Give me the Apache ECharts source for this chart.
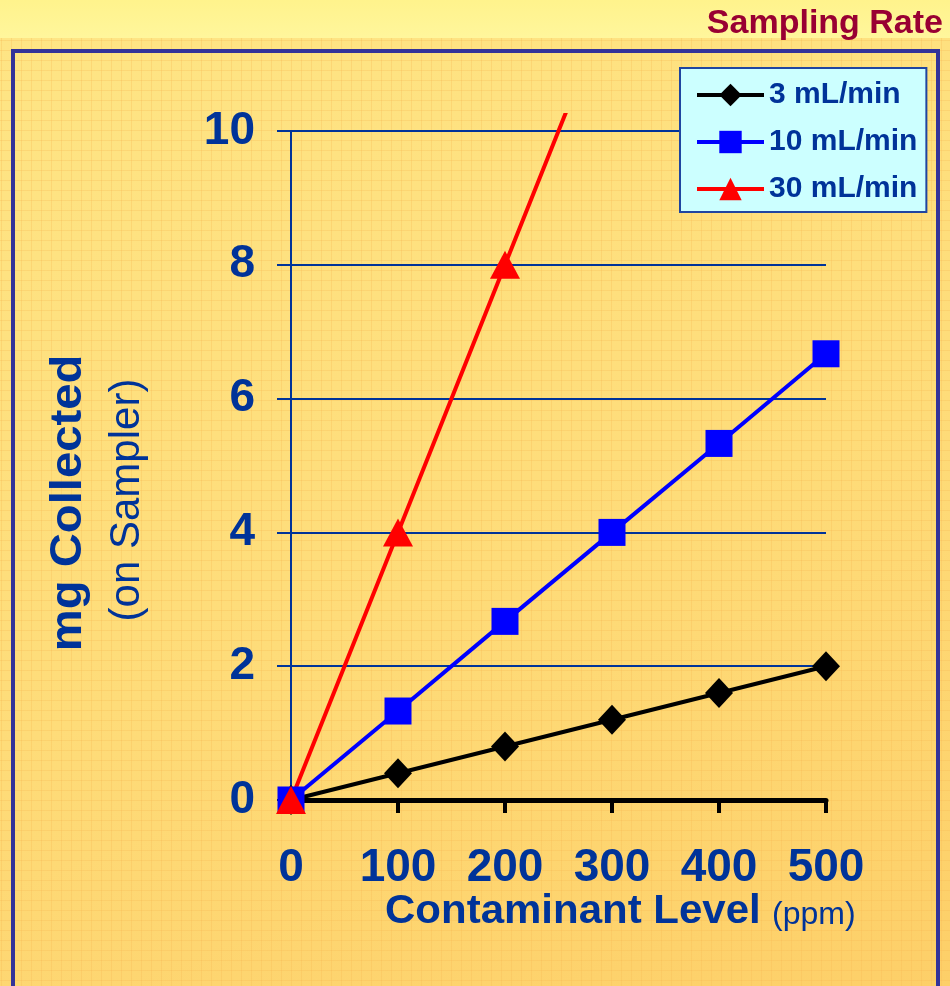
<!DOCTYPE html>
<html>
<head>
<meta charset="utf-8">
<title>Sampling Rate</title>
<script src="https://cdn.jsdelivr.net/npm/echarts@6/dist/echarts.min.js"></script>
<style>
  html, body { margin: 0; padding: 0; }
  #page { position: relative; width: 950px; height: 986px; overflow: hidden; background: #fff38c; }
  #strip { position: absolute; left: 0; top: 0; width: 950px; height: 38px;
           background: linear-gradient(to bottom, #fff38c, #fff69c); }
  #paper { position: absolute; left: 0; top: 38px; width: 950px; height: 948px;
           background:
             repeating-linear-gradient(to right, rgba(248, 185, 85, 0.30) 0 1px, transparent 1px 10px),
             repeating-linear-gradient(to bottom, rgba(248, 185, 85, 0.30) 0 1px, transparent 1px 10px),
             linear-gradient(160deg, #fee585 0%, #fedc79 55%, #fdcf68 100%);
           background-position: 1px 2px, 1px 2px, 0 0; }
  #frame { position: absolute; left: 11px; top: 49px; width: 929px; height: 1000px;
           box-sizing: border-box; border: 4px solid #333399; border-bottom: none; }
  #chart { position: absolute; left: 0; top: 0; width: 950px; height: 986px; }
</style>
</head>
<body>
<div id="page">
  <div id="strip"></div>
  <div id="paper"></div>
  <div id="frame"></div>
  <div id="chart"></div>
</div>
<script>
// Contaminant level on the sampler (ppm) and mass collected (mg) per sampling rate
const ppm = [0, 100, 200, 300, 400, 500];
const rate3 = [0, 0.4, 0.8, 1.2, 1.6, 2.0];
const rate10 = [0, 1.33, 2.67, 4.0, 5.33, 6.67];
const rate30 = [0, 4, 8, 12];
const seriesNames = ['3 mL/min', '10 mL/min', '30 mL/min'];

const titleText = 'Sampling Rate';
const xTitle = 'Contaminant Level';
const xUnit = '(ppm)';
const yTitle = 'mg Collected';
const ySub = '(on Sampler)';

// plot area in pixels
const plotLeft = 291, plotRight = 826, plotTop = 131, plotBottom = 800;
const W = 950, H = 986;
const yMax = 10;
// the steep series may run a little past the top gridline before it is cut off
const overflowTop = 115;
const yMaxOverflow = yMax * (plotBottom - overflowTop) / (plotBottom - plotTop);

const BLUE = '#003399';
const FONT = '"Liberation Sans", Arial, Helvetica, sans-serif';

function pairs(xs, ys) {
  return ys.map((v, i) => [xs[i], v]);
}

const gridBase = { left: plotLeft, right: W - plotRight, bottom: H - plotBottom };

const chart = echarts.init(document.getElementById('chart'), null, { renderer: 'canvas' });

chart.setOption({
  backgroundColor: 'transparent',
  animation: false,
  legend: {
    data: seriesNames,
    orient: 'vertical',
    left: 680,
    top: 68,
    backgroundColor: '#ccffff',
    borderColor: '#1f45a0',
    borderWidth: 2,
    borderRadius: 0,
    padding: [12, 9, 8, 15],
    itemWidth: 67,
    itemHeight: 28,
    itemGap: 17,
    selectedMode: false,
    lineStyle: { width: 4 },
    textStyle: { color: BLUE, fontSize: 30, fontWeight: 'bold', fontFamily: FONT }
  },
  grid: [
    Object.assign({ top: plotTop }, gridBase),
    Object.assign({ top: overflowTop }, gridBase)
  ],
  xAxis: [
    {
      gridIndex: 0, type: 'value', min: 0, max: 500, interval: 100,
      axisLine: { show: true, lineStyle: { color: '#000', width: 5 } },
      axisTick: { show: true, length: 13, lineStyle: { color: '#000', width: 4 } },
      splitLine: { show: false },
      axisLabel: { color: BLUE, fontSize: 46, fontWeight: 'bold', fontFamily: FONT, margin: 45 }
    },
    { gridIndex: 1, type: 'value', min: 0, max: 500, show: false }
  ],
  yAxis: [
    {
      gridIndex: 0, type: 'value', min: 0, max: yMax, interval: 2,
      axisLine: { show: true, lineStyle: { color: BLUE, width: 2 } },
      axisTick: { show: true, length: 14, lineStyle: { color: BLUE, width: 2 } },
      splitLine: { show: true, lineStyle: { color: BLUE, width: 2 } },
      axisLabel: { color: BLUE, fontSize: 46, fontWeight: 'bold', fontFamily: FONT, margin: 36 }
    },
    { gridIndex: 1, type: 'value', min: 0, max: yMaxOverflow, show: false }
  ],
  graphic: [
    {
      // heading in the top-right corner
      type: 'text', x: 943, y: 24, silent: true,
      style: { text: titleText, fill: '#990033', font: 'bold 34px ' + FONT,
               align: 'right', verticalAlign: 'middle' }
    },
    {
      type: 'text', x: 385, y: 912, scaleX: 1.05, silent: true,
      style: { text: xTitle, fill: BLUE, font: 'bold 40px ' + FONT, align: 'left', verticalAlign: 'middle' }
    },
    {
      type: 'text', x: 772, y: 915, silent: true,
      style: { text: xUnit, fill: BLUE, font: '32px ' + FONT, align: 'left', verticalAlign: 'middle' }
    },
    {
      type: 'text', x: 69, y: 503, rotation: Math.PI / 2, scaleX: 1.05, silent: true,
      style: { text: yTitle, fill: BLUE, font: 'bold 45px ' + FONT, align: 'center', verticalAlign: 'middle' }
    },
    {
      type: 'text', x: 127, y: 500, rotation: Math.PI / 2, silent: true,
      style: { text: ySub, fill: BLUE, font: '42px ' + FONT, align: 'center', verticalAlign: 'middle' }
    }
  ],
  series: [
    {
      name: seriesNames[0], type: 'line', xAxisIndex: 0, yAxisIndex: 0,
      data: pairs(ppm, rate3),
      symbol: 'diamond', symbolSize: [28, 30],
      lineStyle: { color: '#000000', width: 4 },
      itemStyle: { color: '#000000' },
      emphasis: { disabled: true }
    },
    {
      name: seriesNames[1], type: 'line', xAxisIndex: 0, yAxisIndex: 0,
      data: pairs(ppm, rate10),
      symbol: 'rect', symbolSize: 27,
      lineStyle: { color: '#0000ff', width: 4 },
      itemStyle: { color: '#0000ff' },
      emphasis: { disabled: true }
    },
    {
      name: seriesNames[2], type: 'line', xAxisIndex: 1, yAxisIndex: 1,
      data: pairs(ppm, rate30),
      symbol: 'triangle', symbolSize: [30, 28],
      clip: true,
      lineStyle: { color: '#ff0000', width: 4 },
      itemStyle: { color: '#ff0000' },
      emphasis: { disabled: true }
    }
  ]
});
</script>
</body>
</html>
